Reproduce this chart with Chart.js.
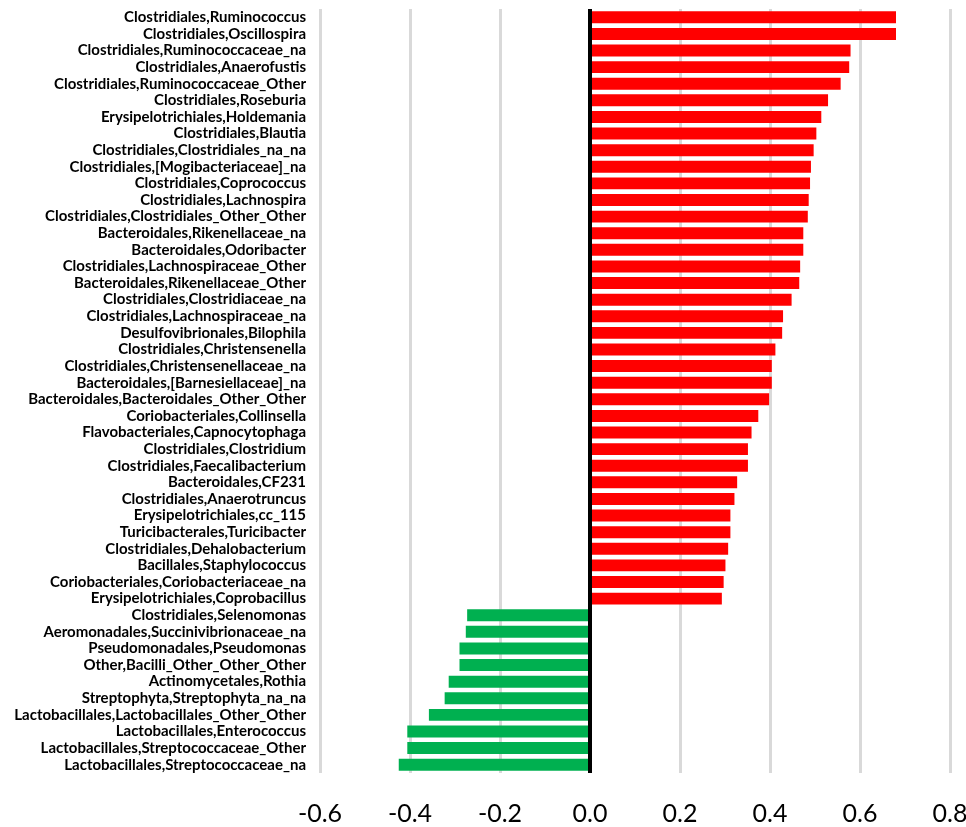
<!DOCTYPE html>
<html>
<head>
<meta charset="utf-8">
<script src="https://cdn.jsdelivr.net/npm/chart.js@4/dist/chart.umd.min.js"></script>
<style>
  html, body { margin: 0; padding: 0; background: #ffffff; }
  #wrap { width: 966px; height: 827px; }
</style>
</head>
<body>
<div id="wrap"><canvas id="chart" width="966" height="827"></canvas></div>
<script>
// Taxa (order,genus) listed top to bottom
const taxa = [
  "Clostridiales,Ruminococcus",
  "Clostridiales,Oscillospira",
  "Clostridiales,Ruminococcaceae_na",
  "Clostridiales,Anaerofustis",
  "Clostridiales,Ruminococcaceae_Other",
  "Clostridiales,Roseburia",
  "Erysipelotrichiales,Holdemania",
  "Clostridiales,Blautia",
  "Clostridiales,Clostridiales_na_na",
  "Clostridiales,[Mogibacteriaceae]_na",
  "Clostridiales,Coprococcus",
  "Clostridiales,Lachnospira",
  "Clostridiales,Clostridiales_Other_Other",
  "Bacteroidales,Rikenellaceae_na",
  "Bacteroidales,Odoribacter",
  "Clostridiales,Lachnospiraceae_Other",
  "Bacteroidales,Rikenellaceae_Other",
  "Clostridiales,Clostridiaceae_na",
  "Clostridiales,Lachnospiraceae_na",
  "Desulfovibrionales,Bilophila",
  "Clostridiales,Christensenella",
  "Clostridiales,Christensenellaceae_na",
  "Bacteroidales,[Barnesiellaceae]_na",
  "Bacteroidales,Bacteroidales_Other_Other",
  "Coriobacteriales,Collinsella",
  "Flavobacteriales,Capnocytophaga",
  "Clostridiales,Clostridium",
  "Clostridiales,Faecalibacterium",
  "Bacteroidales,CF231",
  "Clostridiales,Anaerotruncus",
  "Erysipelotrichiales,cc_115",
  "Turicibacterales,Turicibacter",
  "Clostridiales,Dehalobacterium",
  "Bacillales,Staphylococcus",
  "Coriobacteriales,Coriobacteriaceae_na",
  "Erysipelotrichiales,Coprobacillus",
  "Clostridiales,Selenomonas",
  "Aeromonadales,Succinivibrionaceae_na",
  "Pseudomonadales,Pseudomonas",
  "Other,Bacilli_Other_Other_Other",
  "Actinomycetales,Rothia",
  "Streptophyta,Streptophyta_na_na",
  "Lactobacillales,Lactobacillales_Other_Other",
  "Lactobacillales,Enterococcus",
  "Lactobacillales,Streptococcaceae_Other",
  "Lactobacillales,Streptococcaceae_na"
];

// Correlation coefficient for each taxon
const correlation = [
  0.680, 0.680, 0.579, 0.576, 0.557, 0.529, 0.514, 0.503, 0.497, 0.491,
  0.489, 0.486, 0.484, 0.474, 0.474, 0.467, 0.465, 0.448, 0.429, 0.427,
  0.412, 0.404, 0.404, 0.398, 0.374, 0.359, 0.351, 0.351, 0.327, 0.321,
  0.312, 0.312, 0.307, 0.301, 0.297, 0.293,
  -0.273, -0.276, -0.290, -0.290, -0.314, -0.323, -0.358, -0.406, -0.406, -0.425
];

// X axis range and tick step
const xTicks = { min: -0.6, max: 0.8, step: 0.2 };

const POS_COLOR = "#ff0000";
const NEG_COLOR = "#00b050";

// Heavy black line at zero, drawn over the bars
const zeroLine = {
  id: "zeroLine",
  afterDatasetsDraw(chart) {
    const { ctx, chartArea, scales } = chart;
    const x = scales.x.getPixelForValue(0);
    ctx.save();
    ctx.strokeStyle = "#000000";
    ctx.lineWidth = 4;
    ctx.beginPath();
    ctx.moveTo(x, chartArea.top);
    ctx.lineTo(x, chartArea.bottom);
    ctx.stroke();
    ctx.restore();
  }
};

new Chart(document.getElementById("chart"), {
  type: "bar",
  data: {
    labels: taxa,
    datasets: [{
      data: correlation,
      backgroundColor: correlation.map(v => v >= 0 ? POS_COLOR : NEG_COLOR),
      borderWidth: 0,
      barPercentage: 0.72,
      categoryPercentage: 1.0
    }]
  },
  options: {
    indexAxis: "y",
    responsive: false,
    animation: false,
    layout: { padding: { top: 9, right: 16, bottom: 0, left: 0 } },
    plugins: {
      legend: { display: false },
      tooltip: { enabled: false }
    },
    scales: {
      x: {
        min: xTicks.min,
        max: xTicks.max,
        border: { display: false },
        grid: {
          drawTicks: false,
          lineWidth: 3,
          color: ctx => (Math.abs(ctx.tick.value) < 1e-9 ? "rgba(0,0,0,0)" : "#d9d9d9")
        },
        ticks: {
          stepSize: xTicks.step,
          padding: 26,
          color: "#000000",
          font: { family: "Lato", size: 25 },
          callback: v => Number(v).toFixed(1)
        },
        afterFit(scale) {
          scale.height = 54;
          scale.paddingLeft = 0;
          scale.paddingRight = 0;
        }
      },
      y: {
        border: { display: false },
        grid: { display: false, drawTicks: false },
        ticks: {
          padding: 14,
          autoSkip: false,
          color: "#000000",
          font: { family: "Lato", size: 15, weight: "bold" }
        },
        afterFit(scale) {
          scale.width = 320;
          scale.paddingTop = 0;
          scale.paddingBottom = 0;
        }
      }
    }
  },
  plugins: [zeroLine]
});
</script>
</body>
</html>
